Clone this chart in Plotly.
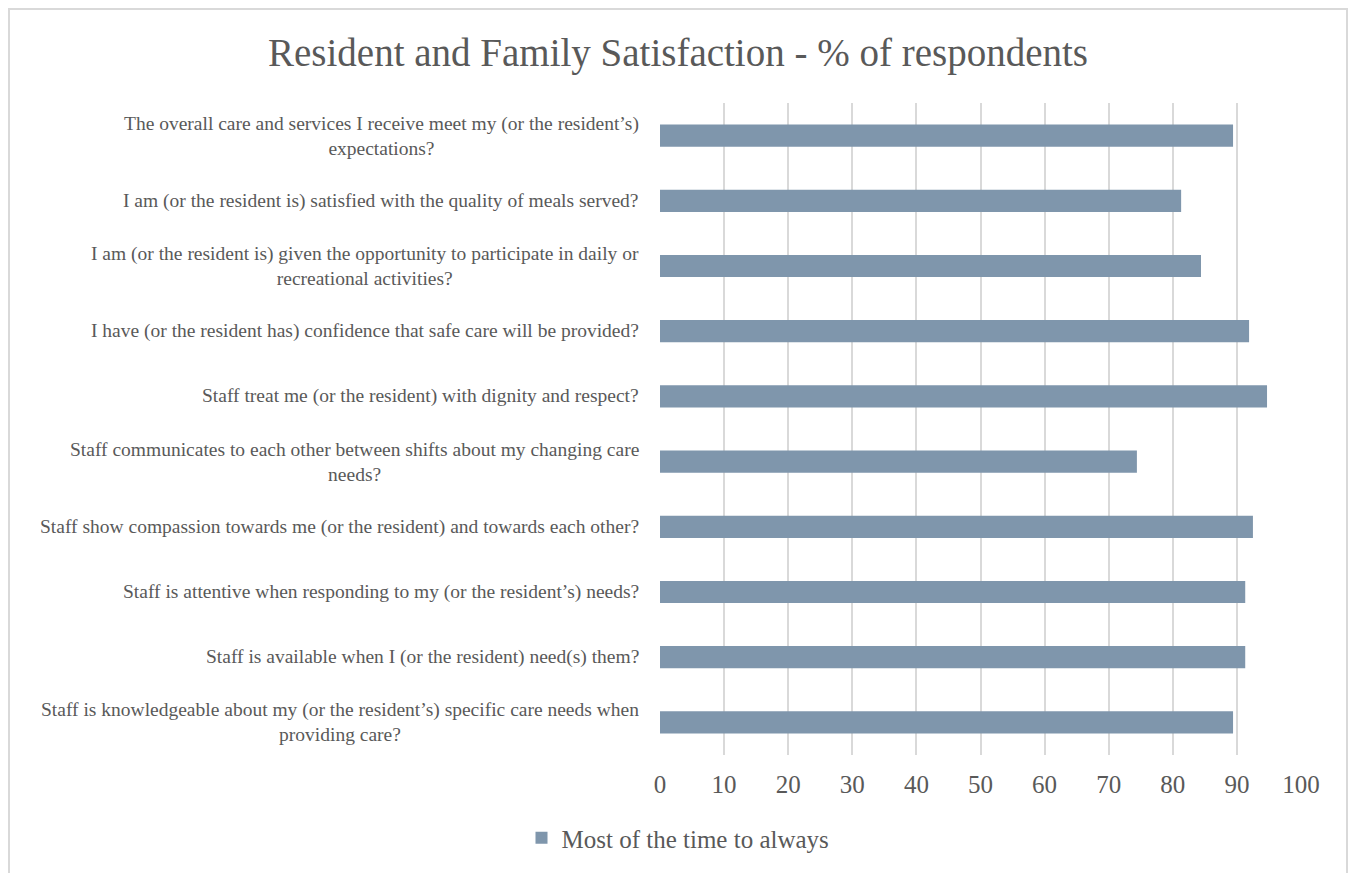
import plotly.graph_objects as go

title = "Resident and Family Satisfaction - % of respondents"
series_name = "Most of the time to always"

categories = [
    "The overall care and services I receive meet my (or the resident’s)<br>expectations?",
    "I am (or the resident is) satisfied with the quality of meals served?",
    "I am (or the resident is) given the opportunity to participate in daily or<br>recreational activities?",
    "I have (or the resident has) confidence that safe care will be provided?",
    "Staff treat me (or the resident) with dignity and respect?",
    "Staff communicates to each other between shifts about my changing care<br>needs?",
    "Staff show compassion towards me (or the resident) and towards each other?",
    "Staff is attentive when responding to my (or the resident’s) needs?",
    "Staff is available when I (or the resident) need(s) them?",
    "Staff is knowledgeable about my (or the resident’s) specific care needs when<br>providing care?",
]
values = [89.4, 81.3, 84.4, 91.9, 94.7, 74.4, 92.5, 91.3, 91.3, 89.4]
x_ticks = [0, 10, 20, 30, 40, 50, 60, 70, 80, 90, 100]

# figure is placed by the page at (8, 8)
W, H = 1340, 865
L, R, T, B = 652, 47, 95, 118

FONT = "Liberation Serif"
GREY = "#595959"

fig = go.Figure()
fig.add_trace(go.Bar(
    y=categories, x=values, orientation="h",
    marker=dict(color="#7F96AC", line=dict(width=0)),
    name=series_name, showlegend=True,
))

annotations = []
for c in categories:
    annotations.append(dict(
        text=c, x=0, xref="paper", xanchor="right", xshift=-19,
        y=c, yref="y", yanchor="middle", align="center", showarrow=False,
        font=dict(family=FONT, size=19.5, color=GREY),
    ))

pw, ph = W - L - R, H - T - B
shapes = [
    # chart frame on figure edges
    dict(type="rect", xref="paper", yref="paper",
         x0=(1 - L) / pw, x1=(W - 1 - L) / pw,
         y0=-(B + 20) / ph, y1=(H - 1 - B) / ph,
         line=dict(color="#D9D9D9", width=2), layer="below"),
]

fig.update_layout(
    width=W, height=H,
    margin=dict(l=L, r=R, t=T, b=B),
    paper_bgcolor="white", plot_bgcolor="white",
    title=dict(text=title, x=0.5, xref="container", xanchor="center",
               y=1 - 44 / H, yref="container", yanchor="middle",
               font=dict(family=FONT, size=39, color=GREY)),
    bargap=0.66,
    xaxis=dict(range=[0, 100], tickvals=x_ticks, showgrid=True, gridcolor="#D9D9D9",
               gridwidth=1.5, zeroline=False, showline=False, ticks="",
               ticklabelstandoff=12,
               tickfont=dict(family=FONT, size=25, color=GREY), fixedrange=True),
    yaxis=dict(autorange="reversed", showticklabels=False, showgrid=False,
               zeroline=False, showline=False, ticks=""),
    legend=dict(orientation="h", x=0.5, xref="container", xanchor="center",
                y=1 - 830 / H, yref="container", yanchor="middle",
                font=dict(family=FONT, size=25, color=GREY), itemwidth=30),
    annotations=annotations,
    shapes=shapes,
    showlegend=True,
)

fig.write_html("out.html")
